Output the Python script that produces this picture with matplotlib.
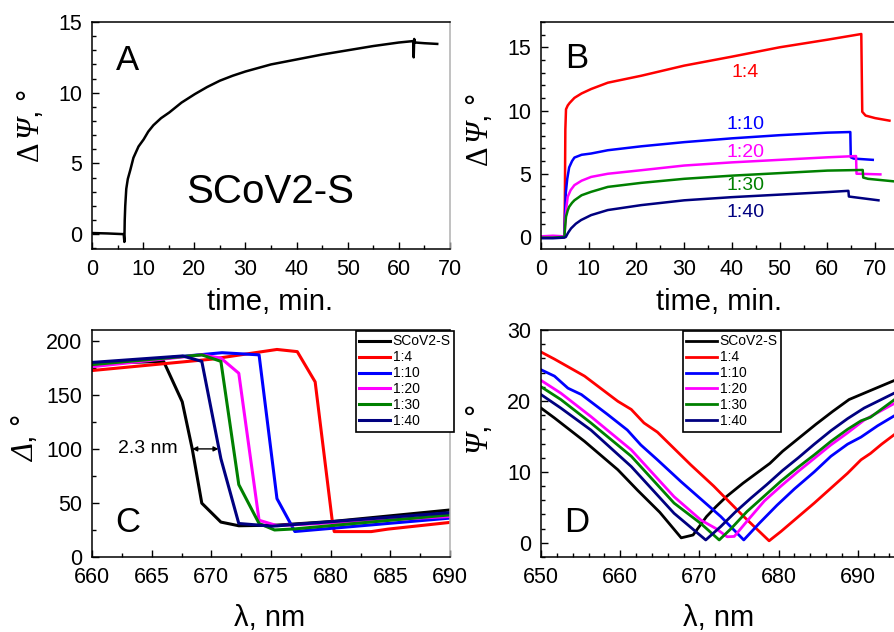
import matplotlib
matplotlib.use('Agg')
import matplotlib.pyplot as plt
from matplotlib.ticker import MultipleLocator

plt.rcParams['font.family'] = ['Liberation Sans', 'DejaVu Sans']
plt.rcParams['mathtext.fontset'] = 'custom'
plt.rcParams['mathtext.rm'] = 'Liberation Serif:italic'
plt.rcParams['mathtext.it'] = 'Liberation Serif:italic'
plt.rcParams['mathtext.sf'] = 'Liberation Serif'

# ---------------- data ----------------
# Panel A: SCoV2-S kinetics
tA = [0, 3, 6.2, 6.33, 6.4, 6.5, 6.7, 7.0, 7.5, 8.1, 9.1, 10.1, 11, 12, 13.5, 15.1, 17.5, 20.1,
      22.5, 25, 27.5, 30, 35, 40, 45, 50, 55, 60, 62.8, 62.9, 63.0, 63.2, 65, 67.5]
psiA = [0.08, 0.05, 0.0, -0.55, 1.0, 2.0, 3.2, 3.9, 4.55, 5.4, 6.2, 6.7, 7.25, 7.7, 8.2, 8.6, 9.3, 9.9,
        10.4, 10.85, 11.2, 11.5, 12.0, 12.35, 12.7, 13.0, 13.3, 13.55, 13.65, 12.5, 13.8, 13.55, 13.5, 13.45]

# Panel B: dilutions
t_14 = [0, 2.5, 4.9, 5.0, 5.1, 5.24, 5.6, 6, 7, 8.5, 10.5, 14, 21, 30, 40, 50, 60, 67.1, 67.3, 68.0, 70, 73]
v_14 = [0.0, 0.05, 0.0, 3.0, 8.5, 10.1, 10.4, 10.6, 11.0, 11.35, 11.7, 12.2, 12.75, 13.55, 14.26, 15.0,
        15.6, 16.05, 9.9, 9.6, 9.4, 9.2]
t_110 = [0, 2.5, 4.9, 5.0, 5.2, 5.5, 5.9, 6.5, 7.0, 8.5, 10.5, 14, 21, 30, 40, 50, 60, 64.8, 64.9, 65.5, 69.5]
v_110 = [0.05, 0.0, 0.05, 1.5, 3.5, 4.6, 5.5, 6.0, 6.28, 6.5, 6.6, 6.86, 7.17, 7.5, 7.8, 8.05, 8.25, 8.3,
         6.3, 6.2, 6.1]
t_120 = [0, 2.5, 4.9, 5.1, 5.3, 5.6, 6.2, 7.0, 8.5, 10.5, 14, 21, 30, 40, 50, 60, 66.0, 66.1, 66.6, 71.1]
v_120 = [0.05, 0.1, 0.05, 1.2, 2.3, 3.18, 3.7, 4.1, 4.45, 4.75, 5.0, 5.28, 5.65, 5.9, 6.1, 6.3, 6.4,
         5.0, 5.0, 4.95]
t_130 = [0, 2.5, 4.9, 5.05, 5.24, 5.6, 5.9, 6.5, 7.0, 8.5, 10.5, 14, 21, 30, 40, 50, 60, 67.4, 67.5, 68.5, 75]
v_130 = [-0.05, -0.05, 0.0, 0.8, 1.6, 2.1, 2.39, 2.7, 2.9, 3.3, 3.57, 3.96, 4.28, 4.6, 4.85, 5.05,
         5.25, 5.3, 4.7, 4.6, 4.36]
t_140 = [0, 2.5, 4.9, 5.2, 5.7, 6.3, 7.3, 8.4, 10.5, 14, 21, 30, 40, 50, 60, 64.4, 64.5, 65.5, 70.7]
v_140 = [-0.1, -0.1, -0.05, 0.0, 0.35, 0.68, 1.05, 1.34, 1.73, 2.13, 2.52, 2.9, 3.15, 3.35, 3.55, 3.65,
         3.2, 3.15, 2.9]

# Panel C: Delta spectra
lamC_s = [660, 666.0, 667.56, 668.4, 669.2, 670.8, 672.3, 675.5, 680.3, 690]
delC_s = [179, 181, 143.6, 100, 49.8, 32.3, 28.9, 29.5, 33, 43.5]
lamC_14 = [660, 670, 675.5, 677.2, 678.7, 680.15, 680.3, 683.4, 684.8, 690]
delC_14 = [172.5, 183, 192, 190, 162, 32, 23.5, 23.5, 25.8, 32]
lamC_110 = [660, 667, 670.9, 674.0, 675.5, 677.0, 690]
delC_110 = [177, 185, 189, 187, 54, 23.6, 36]
lamC_120 = [660, 669.2, 670.8, 672.3, 674.0, 675.5, 690]
delC_120 = [176, 187, 184, 170, 34, 29, 37.5]
lamC_130 = [660, 669.2, 670.8, 672.3, 674.0, 675.3, 677.0, 690]
delC_130 = [178, 187, 181, 67, 31, 25, 26, 39]
lamC_140 = [660, 667.6, 669.2, 670.8, 672.3, 675.1, 690]
delC_140 = [180, 186, 181, 91, 31, 28.5, 41]

# Panel D: Psi spectra
lamD_s = [650, 651.7, 655.5, 659.7, 662.2, 665, 667.7, 669.2, 670.9, 672.1, 673.4, 675.5, 677.2,
          678.9, 680.5, 682.6, 684.7, 686.8, 688.9, 692.3, 695.5]
psiD_s = [19.0, 17.6, 14.3, 10.3, 7.4, 4.3, 0.7, 1.1, 3.7, 5.1, 6.5, 8.4, 9.8,
          11.2, 12.9, 14.8, 16.7, 18.5, 20.2, 21.8, 23.3]
lamD_14 = [650, 651.7, 655.5, 659.7, 661.4, 663.0, 664.7, 668.9, 671.8, 675.6, 678.8, 680.3, 682.4,
           684.5, 686.6, 688.7, 690.4, 691.6, 693.0, 695.5]
psiD_14 = [26.9, 25.9, 23.5, 19.95, 18.8, 16.9, 15.6, 11.0, 8.0, 3.7, 0.28, 1.6, 3.6,
           5.6, 7.7, 9.8, 11.7, 12.6, 13.9, 16.0]
lamD_110 = [650, 651.7, 653.4, 655.1, 658.4, 660.9, 662.6, 664.7, 667.7, 672.7, 675.6, 677.6, 679.8,
            682.0, 684.5, 686.6, 688.7, 690.4, 692.5, 695.5]
psiD_110 = [24.4, 23.5, 21.8, 20.9, 18.1, 15.9, 13.8, 11.7, 8.6, 3.7, 0.4, 2.8, 5.3,
            7.6, 10.0, 12.2, 13.9, 14.9, 16.5, 18.5]
lamD_120 = [650, 652.5, 656.3, 661.4, 666.8, 670.2, 672.1, 673.5, 674.4, 676.2, 678.2, 680.3, 682.4,
            684.5, 686.6, 688.7, 690.8, 695.5]
psiD_120 = [22.9, 21.1, 17.8, 13.1, 6.5, 3.2, 2.0, 0.85, 0.9, 3.3, 5.9, 8.0, 10.0,
            11.9, 13.8, 15.5, 17.3, 20.2]
lamD_130 = [650, 652.5, 656.3, 661.4, 666.8, 670.2, 672.5, 674.0, 676.0, 678.2, 680.3, 682.4, 684.5,
            686.6, 688.7, 690.4, 691.6, 695.5]
psiD_130 = [22.0, 20.2, 16.9, 12.2, 5.6, 2.7, 0.4, 2.0, 4.4, 6.6, 8.7, 10.6, 12.4,
            14.3, 16.0, 17.2, 17.7, 20.9]
lamD_140 = [650, 652.5, 656.3, 661.4, 666.8, 670.8, 672.7, 674.5, 676.5, 678.5, 680.5, 682.5, 684.5,
            686.6, 688.7, 690.8, 695.5]
psiD_140 = [20.9, 19.0, 15.9, 10.75, 4.16, 0.4, 2.3, 4.3, 6.3, 8.2, 10.2, 12.0, 13.9,
            15.8, 17.5, 19.0, 21.6]

labels = ['SCoV2-S', '1:4', '1:10', '1:20', '1:30', '1:40']
colors = ['#000000', '#ff0000', '#0000ff', '#ff00ff', '#008000', '#000080']

# ---------------- figure ----------------
W, H = 894, 632
fig = plt.figure(figsize=(W / 100, H / 100), dpi=100)


def px_axes(l, t, r, b):
    return fig.add_axes([l / W, 1 - b / H, (r - l) / W, (b - t) / H])


axA = px_axes(92, 22, 450, 249)
axB = px_axes(541, 22, 899, 249)
axC = px_axes(92, 330, 450, 557)
axD = px_axes(541, 330, 899, 557)


def style(ax, xmaj, xmin, ymaj, ymin):
    ax.xaxis.set_major_locator(MultipleLocator(xmaj))
    ax.xaxis.set_minor_locator(MultipleLocator(xmin))
    ax.yaxis.set_major_locator(MultipleLocator(ymaj))
    ax.yaxis.set_minor_locator(MultipleLocator(ymin))
    ax.tick_params(which='both', direction='in', top=False, right=False, labelsize=15.5)
    ax.tick_params(which='major', length=5, width=1)
    ax.tick_params(axis='x', which='major', pad=7.5)
    ax.tick_params(axis='y', which='major', pad=7)
    ax.tick_params(which='minor', length=3, width=1)
    for s in ax.spines.values():
        s.set_linewidth(1.1)


# Panel A
axA.plot(tA, psiA, color='black', lw=1.8)
axA.set_xlim(0, 70)
axA.set_ylim(-1.05, 15)
style(axA, 10, 5, 5, 1)
axA.spines['right'].set_color('#b0b0b0')
axA.text(0.497, 0.25, 'SCoV2-S', transform=axA.transAxes, fontsize=29, ha='center', va='center')

# Panel B
for t, v, c in zip([t_14, t_110, t_120, t_130, t_140], [v_14, v_110, v_120, v_130, v_140], colors[1:]):
    axB.plot(t, v, color=c, lw=1.8)
axB.set_xlim(0, 75)
axB.set_ylim(-0.95, 17)
style(axB, 10, 5, 5, 1)
bl_t = [42.8, 42.8, 42.8, 42.8, 42.8]
bl_v = [13.0, 8.9, 6.7, 4.1, 1.9]
for x, y, lab, c in zip(bl_t, bl_v, labels[1:], colors[1:]):
    axB.text(x, y, lab, color=c, fontsize=14, ha='center', va='center')

# Panel C
for lam, d, c, lab in zip([lamC_s, lamC_14, lamC_110, lamC_120, lamC_130, lamC_140],
                          [delC_s, delC_14, delC_110, delC_120, delC_130, delC_140], colors, labels):
    axC.plot(lam, d, color=c, lw=2.2, label=lab)
axC.set_xlim(660, 690)
axC.set_ylim(0, 210)
style(axC, 5, 2.5, 50, 25)
axC.spines['right'].set_color('#b0b0b0')
axC.annotate('', xy=(668.4, 100), xytext=(670.6, 100),
             arrowprops=dict(arrowstyle='<|-|>', color='black', lw=1.0,
                             mutation_scale=7, shrinkA=0, shrinkB=0))
axC.text(664.7, 100, '2.3 nm', fontsize=14, ha='center', va='center')

# Panel D
for lam, p, c, lab in zip([lamD_s, lamD_14, lamD_110, lamD_120, lamD_130, lamD_140],
                          [psiD_s, psiD_14, psiD_110, psiD_120, psiD_130, psiD_140], colors, labels):
    axD.plot(lam, p, color=c, lw=2.0, label=lab)
axD.set_xlim(650, 695.2)
axD.set_ylim(-2, 30)
style(axD, 10, 2, 10, 2)

# letters
for ax, letter, x, y in [(axA, 'A', 128, 60), (axB, 'B', 577, 58), (axC, 'C', 128, 522), (axD, 'D', 577, 522)]:
    ax.text(x, H - y, letter, transform=None, fontsize=25, ha='center', va='center')

# axis labels
axA.set_ylabel(r'$\mathsf{\Delta}\,\Psi$, °', fontsize=22, va='center')
axA.yaxis.set_label_coords(-0.170, 0.542)
axB.set_ylabel(r'$\mathsf{\Delta}\,\Psi$, °', fontsize=22, va='center')
axB.yaxis.set_label_coords(-0.170, 0.524)
axC.set_ylabel(r'$\Delta$, °', fontsize=22, va='center')
axC.yaxis.set_label_coords(-0.187, 0.524)
axD.set_ylabel(r'$\Psi$, °', fontsize=22, va='center')
axD.yaxis.set_label_coords(-0.170, 0.56)

for ax in (axA, axB):
    ax.set_xlabel('time, min.', fontsize=21, va='center')
    ax.xaxis.set_label_coords(0.497, -0.233)
for ax in (axC, axD):
    ax.set_xlabel('λ, nm', fontsize=21, va='center')
    ax.xaxis.set_label_coords(0.497, -0.268)

# legends
for ax, lx in [(axC, 356), (axD, 683)]:
    leg = ax.legend(loc='upper left', bbox_to_anchor=(lx / W, 1 - 331 / H),
                    bbox_transform=fig.transFigure, fontsize=10, frameon=True,
                    fancybox=False, borderaxespad=0, handlelength=2.2,
                    handletextpad=0.2, labelspacing=0.14, borderpad=0.25)
    leg.get_frame().set_edgecolor('black')
    leg.get_frame().set_linewidth(1.2)
    leg.get_frame().set_alpha(1)

fig.savefig('out.png', dpi=100)
